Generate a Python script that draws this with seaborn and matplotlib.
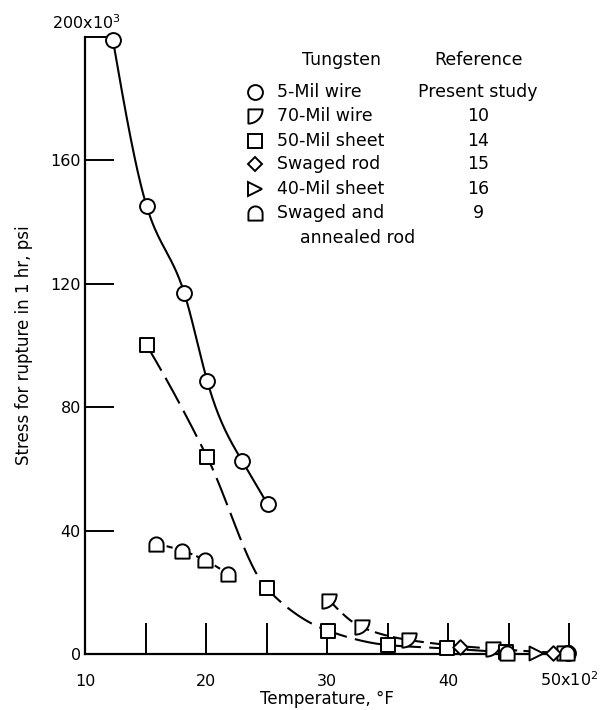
import numpy as np
import matplotlib
matplotlib.use("Agg")
import matplotlib.pyplot as plt
from matplotlib.path import Path
from matplotlib.markers import MarkerStyle
from matplotlib.lines import Line2D
import seaborn as sns

# ---------------- data ----------------
wire5_T = [12.3, 15.1, 18.2, 20.1, 23.0, 25.1, 49.9]
wire5_S = [199.0, 145.0, 117.0, 88.5, 62.5, 48.5, 0.4]

wire70_T = [30.2, 32.9, 36.8, 43.7, 49.6]
wire70_S = [17.4, 8.7, 4.6, 1.8, 0.4]

sheet50_T = [15.1, 20.1, 25.0, 30.1, 35.0, 39.9, 44.8]
sheet50_S = [100.0, 63.8, 21.4, 7.6, 3.0, 1.9, 0.6]

rod_T = [41.0, 48.7]
rod_S = [2.5, 0.5]

sheet40_T = [47.3]
sheet40_S = [0.4]

annealed_T = [15.9, 18.0, 19.9, 21.8, 44.9, 49.8]
annealed_S = [35.7, 33.6, 30.5, 26.0, 0.5, 0.5]

legend_names = ["5-Mil wire", "70-Mil wire", "50-Mil sheet", "Swaged rod",
                "40-Mil sheet", "Swaged and"]
legend_refs = ["Present study", "10", "14", "15", "16", "9"]

x_ticks = [10, 20, 30, 40, 50]
x_ticklabels = ["10", "20", "30", "40", "50x10$^2$"]
y_ticks = [0, 40, 80, 120, 160, 200]
y_ticklabels = ["0", "40", "80", "120", "160", ""]

# ---------------- style ----------------
sns.set_style("ticks")
plt.rcParams["font.family"] = ["DejaVu Sans"]
for k in ["text.color", "axes.labelcolor", "xtick.color", "ytick.color", "axes.edgecolor"]:
    plt.rcParams[k] = "black"

W, H = 605, 710
fig = plt.figure(figsize=(W / 100, H / 100), dpi=100)
x0, x1, ytop, ybot = 85, 569, 36.5, 654.3
ax = fig.add_axes([x0 / W, (H - ybot) / H, (x1 - x0) / W, (ybot - ytop) / H])


def pchip(x, y, n=200):
    x = np.asarray(x, float)
    y = np.asarray(y, float)
    h = np.diff(x)
    d = np.diff(y) / h
    m = np.zeros_like(x)
    for k in range(1, len(x) - 1):
        if d[k - 1] * d[k] > 0:
            w1 = 2 * h[k] + h[k - 1]
            w2 = h[k] + 2 * h[k - 1]
            m[k] = (w1 + w2) / (w1 / d[k - 1] + w2 / d[k])
    m[0] = ((2 * h[0] + h[1]) * d[0] - h[0] * d[1]) / (h[0] + h[1]) if len(x) > 2 else d[0]
    m[-1] = ((2 * h[-1] + h[-2]) * d[-1] - h[-1] * d[-2]) / (h[-1] + h[-2]) if len(x) > 2 else d[-1]
    if np.sign(m[0]) != np.sign(d[0]):
        m[0] = 0
    if np.sign(m[-1]) != np.sign(d[-1]):
        m[-1] = 0
    xs = np.linspace(x[0], x[-1], n)
    idx = np.clip(np.searchsorted(x, xs) - 1, 0, len(x) - 2)
    t = (xs - x[idx]) / h[idx]
    h00 = 2 * t**3 - 3 * t**2 + 1
    h10 = t**3 - 2 * t**2 + t
    h01 = -2 * t**3 + 3 * t**2
    h11 = t**3 - t**2
    ys = h00 * y[idx] + h10 * h[idx] * m[idx] + h01 * y[idx + 1] + h11 * h[idx] * m[idx + 1]
    return xs, ys


def natural_spline(x, y, n=200):
    x = np.asarray(x, float)
    y = np.asarray(y, float)
    N = len(x)
    h = np.diff(x)
    A = np.zeros((N, N))
    b = np.zeros(N)
    A[0, 0] = A[-1, -1] = 1
    for i in range(1, N - 1):
        A[i, i - 1] = h[i - 1]
        A[i, i] = 2 * (h[i - 1] + h[i])
        A[i, i + 1] = h[i]
        b[i] = 6 * ((y[i + 1] - y[i]) / h[i] - (y[i] - y[i - 1]) / h[i - 1])
    M = np.linalg.solve(A, b)
    xs = np.linspace(x[0], x[-1], n)
    idx = np.clip(np.searchsorted(x, xs) - 1, 0, N - 2)
    xa, xb, hh = x[idx], x[idx + 1], h[idx]
    ys = (M[idx] * (xb - xs) ** 3 / (6 * hh) + M[idx + 1] * (xs - xa) ** 3 / (6 * hh)
          + (y[idx] / hh - M[idx] * hh / 6) * (xb - xs)
          + (y[idx + 1] / hh - M[idx + 1] * hh / 6) * (xs - xa))
    return xs, ys


# custom marker shapes
quarter = Path([(-1, 1), (1, 1), (1, -0.1), (0.1, -1), (-1, -1), (-1, 1)],
               [Path.MOVETO, Path.LINETO, Path.CURVE4, Path.CURVE4, Path.CURVE4, Path.CLOSEPOLY])
dome = Path([(-1, -1), (1, -1), (1, 0), (1, 0.55), (0.55, 1), (0, 1),
             (-0.55, 1), (-1, 0.55), (-1, 0), (-1, -1)],
            [Path.MOVETO, Path.LINETO, Path.LINETO, Path.CURVE4, Path.CURVE4, Path.CURVE4,
             Path.CURVE4, Path.CURVE4, Path.CURVE4, Path.CLOSEPOLY])

lw = 1.5
# curves
xs, ys = natural_spline(wire5_T[:6], wire5_S[:6])
sns.lineplot(x=xs, y=ys, ax=ax, color="black", lw=lw, sort=False, clip_on=False)
xs, ys = pchip(sheet50_T, sheet50_S)
sns.lineplot(x=xs, y=ys, ax=ax, color="black", lw=lw, sort=False, clip_on=False,
             linestyle=(0, (14, 4)))
xs, ys = pchip(wire70_T, wire70_S)
sns.lineplot(x=xs, y=ys, ax=ax, color="black", lw=lw, sort=False, clip_on=False,
             linestyle=(0, (6, 3)))
xs, ys = pchip(annealed_T[:4], annealed_S[:4])
sns.lineplot(x=xs, y=ys, ax=ax, color="black", lw=lw, sort=False, clip_on=False,
             linestyle=(0, (3, 2)))

mk_kw = dict(ax=ax, facecolor="white", edgecolor="black", linewidth=1.4,
             zorder=4, clip_on=False, legend=False)
sns.scatterplot(x=wire5_T, y=wire5_S, marker="o", s=115, **mk_kw)
sns.scatterplot(x=wire70_T, y=wire70_S, marker=MarkerStyle(quarter), s=105, **mk_kw)
sns.scatterplot(x=sheet50_T, y=sheet50_S, marker="s", s=100, **mk_kw)
sns.scatterplot(x=rod_T, y=rod_S, marker="D", s=55, **mk_kw)
sns.scatterplot(x=sheet40_T, y=sheet40_S, marker=">", s=100, **mk_kw)
sns.scatterplot(x=annealed_T, y=annealed_S, marker=MarkerStyle(dome), s=105, **mk_kw)

# axes
ax.set_xlim(10, 50)
ax.set_ylim(0, 200)
for s in ["top", "right"]:
    ax.spines[s].set_visible(False)
for s in ["left", "bottom"]:
    ax.spines[s].set_linewidth(1.6)
ax.set_xticks(x_ticks)
ax.set_xticks([15, 25, 35, 45], minor=True)
labs = ax.set_xticklabels(x_ticklabels, fontsize=11.5)
for l in labs:
    l.set_va("baseline")
ax.set_yticks(y_ticks)
ax.set_yticklabels(y_ticklabels, fontsize=11.5)
ax.tick_params(axis="x", which="both", direction="in", length=22, width=1.4, pad=23)
ax.tick_params(axis="y", which="both", direction="in", length=21, width=1.4, pad=3)
ax.annotate("200x10$^3$", xy=(10, 200), xycoords="data", xytext=(1, 3),
            textcoords="offset points", ha="center", va="bottom", fontsize=11.5,
            annotation_clip=False)

ax.set_xlabel("Temperature, °F", fontsize=12)
ax.set_ylabel("Stress for rupture in 1 hr, psi", fontsize=12)
ax.xaxis.set_label_coords(0.5, -0.058)
ax.yaxis.set_label_coords(-0.108, 0.5)

# legend table
def fx(px):
    return px / W


def fy(py):
    return 1 - py / H


fs = 12.5
fig.text(fx(342), fy(60), "Tungsten", ha="center", va="center", fontsize=fs)
fig.text(fx(478), fy(60), "Reference", ha="center", va="center", fontsize=fs)
rows_y = [92, 116, 141, 164, 189, 213]
leg_markers = [MarkerStyle("o"), MarkerStyle(quarter), MarkerStyle("s"),
               MarkerStyle("D"), MarkerStyle(">"), MarkerStyle(dome)]
leg_sizes = [10.7, 10.2, 10, 7.4, 10, 10.2]
for name, ref, yy, mk, ms in zip(legend_names, legend_refs, rows_y, leg_markers, leg_sizes):
    fig.add_artist(Line2D([fx(255)], [fy(yy)], transform=fig.transFigure, marker=mk,
                          markersize=ms, markerfacecolor="white", markeredgecolor="black",
                          markeredgewidth=1.4, linestyle="none"))
    fig.text(fx(277), fy(yy), name, ha="left", va="center", fontsize=fs)
    fig.text(fx(478), fy(yy), ref, ha="center", va="center", fontsize=fs)
fig.text(fx(300), fy(238), "annealed rod", ha="left", va="center", fontsize=fs)

fig.savefig("out.png", dpi=100)
